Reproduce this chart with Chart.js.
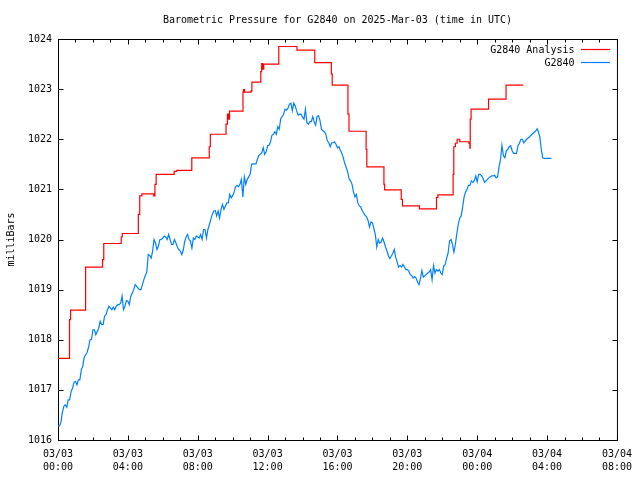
<!DOCTYPE html>
<html><head><meta charset="utf-8">
<script src="https://cdn.jsdelivr.net/npm/chart.js@4.4.0/dist/chart.umd.min.js"></script>
<style>html,body{margin:0;padding:0;background:#fff;}#wrap{width:640px;height:480px;}</style>
</head><body><div id="wrap"><canvas id="c" width="640" height="480"></canvas></div>
<script>
const chartTitle = "Barometric Pressure for G2840 on 2025-Mar-03 (time in UTC)";
const yAxisLabel = "milliBars";
const xTickLabels = [["03/03","00:00"],["03/03","04:00"],["03/03","08:00"],["03/03","12:00"],["03/03","16:00"],["03/03","20:00"],["03/04","00:00"],["03/04","04:00"],["03/04","08:00"]];
const yTickValues = [1016,1017,1018,1019,1020,1021,1022,1023,1024];
const seriesNames = ["G2840 Analysis","G2840"];
const seriesColors = ["#ff0000","#0080ff"];

// Analysis (hours since 03/03 00:00 UTC, mbar) - stepped
const analysisHours = [0,0.66,0.72,1.58,2.55,2.62,3.62,3.68,4.60,4.68,4.80,5.48,5.55,5.62,6.65,6.80,7.66,8.66,8.72,9.62,9.70,9.76,9.82,10.59,10.62,10.68,11.05,11.10,11.61,11.66,11.72,11.78,12.64,13.68,14.70,15.65,15.70,16.60,16.66,17.64,17.68,18.66,18.70,19.65,19.72,20.69,21.67,21.75,22.62,22.66,22.75,22.85,23.00,23.52,23.58,23.60,23.65,24.65,25.65,26.64];
const analysisValues = [1017.63,1018.40,1018.59,1019.45,1019.60,1019.92,1020.05,1020.12,1020.50,1020.87,1020.91,1020.87,1021.10,1021.30,1021.36,1021.38,1021.63,1021.85,1022.10,1022.30,1022.50,1022.40,1022.56,1022.94,1022.99,1022.94,1022.96,1023.14,1023.35,1023.51,1023.40,1023.50,1023.85,1023.78,1023.53,1023.30,1023.08,1022.50,1022.16,1021.80,1021.45,1021.10,1020.99,1020.80,1020.67,1020.61,1020.84,1020.89,1021.30,1021.85,1021.92,1022.00,1021.95,1021.92,1021.82,1022.40,1022.60,1022.80,1023.08,1023.08];

// Observations (minutes since 03/03 00:00 UTC, mbar)
const obsMinutes = [
0,5,10,15,20,25,30,35,40,45,50,55,
60,65,70,75,80,85,90,95,100,105,110,115,
120,125,130,135,140,145,150,155,160,165,170,175,
180,185,190,195,200,205,210,215,220,225,230,235,
240,245,250,255,260,265,270,275,280,285,290,295,
300,305,310,315,320,325,330,335,340,345,350,355,
360,365,370,375,380,385,390,395,400,405,410,415,
420,425,430,435,440,445,450,455,460,465,470,475,
480,485,490,495,500,505,510,515,520,525,530,535,
540,545,550,555,560,565,570,575,580,585,590,595,
600,605,610,615,620,625,630,635,640,645,650,655,
660,665,670,675,680,685,690,695,700,705,710,715,
720,725,730,735,740,745,750,755,760,765,770,775,
780,785,790,795,800,805,810,815,820,825,830,835,
840,845,850,855,860,865,870,875,880,885,890,895,
900,905,910,915,920,925,930,935,940,945,950,955,
960,965,970,975,980,985,990,995,1000,1005,1010,1015,
1020,1025,1030,1035,1040,1045,1050,1055,1060,1065,1070,1075,
1080,1085,1090,1095,1100,1105,1110,1115,1120,1125,1130,1135,
1140,1145,1150,1155,1160,1165,1170,1175,1180,1185,1190,1195,
1200,1205,1210,1215,1220,1225,1230,1235,1240,1245,1250,1255,
1260,1265,1270,1275,1280,1285,1290,1295,1300,1305,1310,1315,
1320,1325,1330,1335,1340,1345,1350,1355,1360,1365,1370,1375,
1380,1385,1390,1395,1400,1405,1410,1415,1420,1425,1430,1435,
1440,1445,1450,1455,1460,1465,1470,1475,1480,1485,1490,1495,
1500,1505,1510,1515,1520,1525,1530,1535,1540,1545,1550,1555,
1560,1565,1570,1575,1580,1585,1590,1595,1600,
1610,1620,1630,1640,1646,1650,1655,1660,1665,1670,1695];
const obsValues = [
1016.28,1016.28,1016.35,1016.55,1016.67,1016.70,1016.65,1016.80,1016.80,1016.97,1017.03,1017.15,
1017.17,1017.10,1017.20,1017.20,1017.40,1017.47,1017.65,1017.70,1017.75,1017.85,1018.00,1018.00,
1018.20,1018.20,1018.10,1018.17,1018.23,1018.37,1018.30,1018.30,1018.47,1018.50,1018.60,1018.67,
1018.63,1018.60,1018.65,1018.60,1018.67,1018.70,1018.70,1018.73,1018.87,1018.60,1018.67,1018.78,
1018.77,1018.70,1018.87,1018.93,1019.00,1019.10,1019.07,1019.03,1019.00,1019.00,1019.10,1019.20,
1019.28,1019.35,1019.70,1019.68,1019.63,1019.77,1020.00,1019.93,1019.80,1019.87,1020.00,1020.00,
1020.03,1020.07,1020.05,1020.00,1020.10,1020.00,1019.90,1019.90,1020.00,1019.93,1019.85,1019.80,
1019.77,1019.70,1019.78,1019.95,1020.05,1020.10,1020.00,1019.97,1019.83,1020.03,1020.00,1020.07,
1020.05,1020.03,1020.10,1020.00,1020.20,1020.20,1020.03,1020.20,1020.30,1020.40,1020.50,1020.57,
1020.58,1020.47,1020.57,1020.43,1020.60,1020.70,1020.60,1020.67,1020.73,1020.73,1020.90,1020.83,
1020.88,1020.95,1021.05,1021.08,1021.05,1021.10,1021.20,1020.85,1021.25,1021.10,1021.20,1021.25,
1021.30,1021.50,1021.51,1021.51,1021.51,1021.60,1021.68,1021.70,1021.73,1021.83,1021.70,1021.75,
1021.87,1021.88,1021.95,1022.08,1022.10,1022.15,1022.10,1022.25,1022.20,1022.41,1022.45,1022.50,
1022.60,1022.58,1022.62,1022.70,1022.72,1022.57,1022.72,1022.66,1022.56,1022.48,1022.50,1022.50,
1022.44,1022.40,1022.60,1022.33,1022.30,1022.35,1022.35,1022.45,1022.35,1022.28,1022.45,1022.47,
1022.37,1022.20,1022.17,1022.15,1022.10,1021.97,1021.93,1021.85,1021.93,1021.93,1021.95,1021.90,
1021.83,1021.85,1021.78,1021.72,1021.63,1021.52,1021.44,1021.35,1021.21,1021.17,1021.10,1020.95,
1020.85,1020.90,1020.73,1020.67,1020.65,1020.58,1020.53,1020.48,1020.45,1020.38,1020.25,1020.35,
1020.33,1020.22,1020.10,1019.85,1020.00,1019.93,1019.95,1020.03,1019.95,1019.85,1019.77,1019.67,
1019.62,1019.67,1019.72,1019.80,1019.65,1019.55,1019.45,1019.48,1019.45,1019.50,1019.45,1019.40,
1019.40,1019.37,1019.30,1019.28,1019.23,1019.26,1019.23,1019.15,1019.10,1019.22,1019.38,1019.25,
1019.28,1019.30,1019.33,1019.35,1019.40,1019.20,1019.48,1019.33,1019.40,1019.37,1019.40,1019.33,
1019.30,1019.47,1019.50,1019.63,1019.73,1019.97,1020.00,1019.90,1019.75,1019.90,1020.12,1020.30,
1020.43,1020.47,1020.65,1020.85,1020.95,1021.00,1021.08,1021.08,1021.17,1021.14,1021.18,1021.27,
1021.15,1021.30,1021.30,1021.27,1021.22,1021.14,1021.17,1021.20,1021.23,1021.25,1021.27,1021.27,
1021.28,1021.23,1021.25,1021.45,1021.60,1021.88,1021.67,1021.63,1021.77,1021.80,1021.85,1021.87,
1021.77,1021.72,1021.72,1021.72,1021.87,1021.92,1022.00,1022.00,1021.93,
1022.00,1022.05,1022.11,1022.16,1022.21,1022.15,1022.05,1021.80,1021.63,1021.62,1021.62];

const FONT = "DejaVu Sans Mono";

const gnuplotDecor = {
  id: 'gnuplotDecor',
  beforeDatasetsDraw(chart) {
    const {ctx, chartArea: a, scales} = chart;
    ctx.save();
    ctx.strokeStyle = '#000';
    ctx.lineWidth = 1;
    ctx.strokeRect(a.left + 0.5, a.top + 0.5, a.right - a.left, a.bottom - a.top);
    ctx.beginPath();
    const xs = scales.x, ys = scales.y;
    for (let h = xs.min; h <= xs.max; h += 1) {
      const px = Math.round(xs.getPixelForValue(h)) + 0.5;
      const len = (h % 4 === 0) ? 5 : 3;
      ctx.moveTo(px, a.bottom + 0.5); ctx.lineTo(px, a.bottom + 0.5 - len);
      ctx.moveTo(px, a.top + 0.5); ctx.lineTo(px, a.top + 0.5 + len);
    }
    yTickValues.forEach(v => {
      const py = Math.round(ys.getPixelForValue(v)) + 0.5;
      ctx.moveTo(a.left + 0.5, py); ctx.lineTo(a.left + 0.5 + 5, py);
      ctx.moveTo(a.right + 0.5, py); ctx.lineTo(a.right + 0.5 - 5, py);
    });
    ctx.stroke();
    ctx.restore();
  },
  afterDraw(chart) {
    const {ctx, chartArea: a} = chart;
    ctx.save();
    ctx.fillStyle = '#000';
    ctx.font = "10px '" + FONT + "'";
    ctx.textAlign = 'center';
    ctx.textBaseline = 'middle';
    ctx.fillText(chartTitle, (a.left + a.right) / 2, 20);
    ctx.save();
    ctx.translate(11, (a.top + a.bottom) / 2);
    ctx.rotate(-Math.PI / 2);
    ctx.fillText(yAxisLabel, 0, 0);
    ctx.restore();
    chart.data.datasets.forEach((ds, i) => {
      const ry = 49.5 + 13 * i;
      ctx.textAlign = 'right';
      ctx.fillStyle = '#000';
      ctx.fillText(ds.label, 574.5, ry + 0.5);
      ctx.strokeStyle = ds.borderColor;
      ctx.lineWidth = 1.2;
      ctx.beginPath();
      ctx.moveTo(581, ry); ctx.lineTo(610, ry);
      ctx.stroke();
    });
    ctx.restore();
  }
};

new Chart(document.getElementById('c'), {
  type: 'line',
  data: {
    datasets: [
      {
        label: seriesNames[0],
        data: analysisHours.map((h, i) => ({x: h, y: analysisValues[i]})),
        borderColor: seriesColors[0],
        borderWidth: 1.2,
        pointRadius: 0,
        stepped: 'before',
        fill: false
      },
      {
        label: seriesNames[1],
        data: obsMinutes.map((m, i) => ({x: m / 60, y: obsValues[i]})),
        borderColor: seriesColors[1],
        borderWidth: 1.2,
        pointRadius: 0,
        tension: 0,
        fill: false
      }
    ]
  },
  options: {
    responsive: false,
    animation: false,
    devicePixelRatio: 1,
    events: [],
    layout: {padding: {left: 0, right: 19, top: 39, bottom: 0}},
    plugins: {legend: {display: false}, title: {display: false}, tooltip: {enabled: false}},
    scales: {
      x: {
        type: 'linear', min: 0, max: 32,
        grid: {display: false, drawTicks: false},
        border: {display: false},
        afterFit: s => { s.height = 40; },
        afterBuildTicks: s => { s.ticks = xTickLabels.map((_, i) => ({value: i * 4})); },
        ticks: {
          autoSkip: false, maxRotation: 0, minRotation: 0, padding: 8, color: '#000',
          font: {family: FONT, size: 10, lineHeight: 1.3},
          callback: (v) => xTickLabels[Math.round(v / 4)]
        }
      },
      y: {
        type: 'linear', min: 1016, max: 1024,
        grid: {display: false, drawTicks: false},
        border: {display: false},
        afterFit: s => { s.width = 58; },
        afterBuildTicks: s => { s.ticks = yTickValues.map(v => ({value: v})); },
        ticks: {
          autoSkip: false, padding: 6, color: '#000',
          font: {family: FONT, size: 10},
          callback: (v) => String(v)
        }
      }
    }
  },
  plugins: [gnuplotDecor]
});
</script>
</body></html>
